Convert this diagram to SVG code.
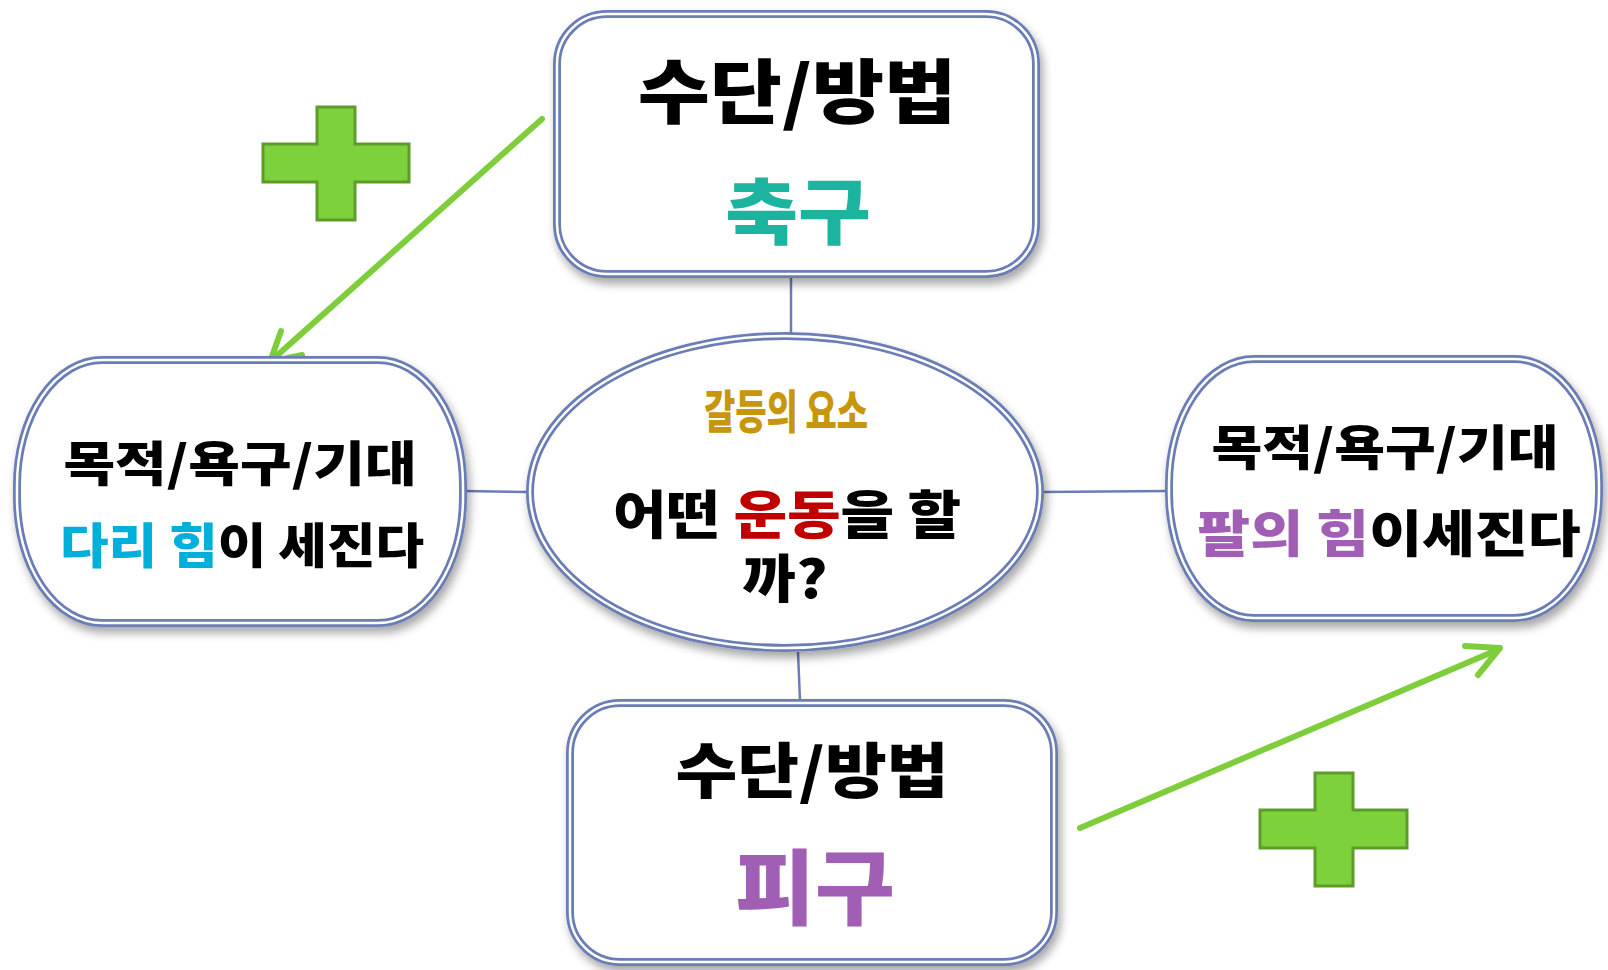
<svg xmlns="http://www.w3.org/2000/svg" width="1608" height="970" viewBox="0 0 1608 970">
<style>
.b{fill:#fff;stroke:#6B7DB5;stroke-width:8}
.w{fill:none;stroke:#fff;stroke-width:2.5}
.t{font-family:"Noto Sans CJK KR","Noto Sans",sans-serif;font-weight:900;text-anchor:middle;fill:#000}
.c{stroke:#6B7DB5;stroke-width:2.5;fill:none}
.g{stroke:#7DCE3A;stroke-width:6;fill:none;stroke-linecap:round;stroke-linejoin:round}
.p{fill:#7DD13A;stroke:#5E9B2A;stroke-width:3}
</style>
<defs>
<filter id="sh" x="-10%" y="-10%" width="125%" height="130%">
<feDropShadow dx="3" dy="6" stdDeviation="5" flood-color="#000" flood-opacity="0.35"/>
</filter>
</defs>
<g id="connectors">
<line class="c" x1="791" y1="277" x2="791" y2="334"/>
<line class="c" x1="798" y1="652" x2="800" y2="701"/>
<line class="c" x1="463" y1="491" x2="530" y2="492"/>
<line class="c" x1="1040" y1="492" x2="1170" y2="491"/>
<path class="g" d="M542 119 L272 360"/>
<path class="g" d="M281 331 L270 362 L302 355"/>
<path class="g" d="M1080 828 L1497 650"/>
<path class="g" d="M1465 646 L1500 648 L1478 675"/>
</g>
<g id="plus1"><path class="p" d="M317 107 H355 V144 H409 V182 H355 V220 H317 V182 H263 V144 H317 Z"/></g>
<g id="plus2"><path class="p" d="M1315 773 H1353 V810 H1407 V848 H1353 V886 H1315 V848 H1260 V810 H1315 Z"/></g>
<g id="top">
<rect class="b" x="557" y="14" width="479" height="260" rx="50" filter="url(#sh)"/>
<rect class="w" x="557" y="14" width="479" height="260" rx="50"/>
<text class="t" transform="translate(797,118) scale(1.12,1)" font-size="70">수단/방법</text>
<text class="t" transform="translate(798,238) scale(1.1,1)" font-size="72" style="fill:#1BB49F">축구</text>
</g>
<g id="left">
<rect class="b" x="17" y="360" width="446" height="263" rx="85" ry="125" filter="url(#sh)"/>
<rect class="w" x="17" y="360" width="446" height="263" rx="85" ry="125"/>
<text class="t" transform="translate(240,481) scale(1.17,1)" font-size="48">목적/욕구/기대</text>
<text class="t" transform="translate(242,563) scale(1.1,1)" font-size="48"><tspan style="fill:#00B0DA">다리 힘</tspan>이 세진다</text>
</g>
<g id="center">
<ellipse class="b" cx="785" cy="492" rx="255" ry="156" filter="url(#sh)"/>
<ellipse class="w" cx="785" cy="492" rx="255" ry="156"/>
<text class="t" transform="translate(786,428) scale(1,1.35)" font-size="34" style="fill:#C8960C">갈등의 요소</text>
<text class="t" transform="scale(1.12,1)" font-size="52"><tspan x="702.7" y="534">어떤 <tspan style="fill:#C00000">운동</tspan>을 할</tspan><tspan x="700.9" y="598">까?</tspan></text>
</g>
<g id="right">
<rect class="b" x="1169" y="359" width="430" height="259" rx="85" ry="125" filter="url(#sh)"/>
<rect class="w" x="1169" y="359" width="430" height="259" rx="85" ry="125"/>
<text class="t" transform="translate(1385,465) scale(1.15,1)" font-size="48">목적/욕구/기대</text>
<text class="t" transform="translate(1389,552) scale(1.15,1)" font-size="50"><tspan style="fill:#A05EB5">팔의 힘</tspan>이세진다</text>
</g>
<g id="bottom">
<rect class="b" x="570" y="703" width="484" height="259" rx="50" filter="url(#sh)"/>
<rect class="w" x="570" y="703" width="484" height="259" rx="50"/>
<text class="t" transform="translate(812,793) scale(1.12,1)" font-size="60">수단/방법</text>
<text class="t" transform="translate(815,918) scale(1.06,1)" font-size="82" style="fill:#A05EB5">피구</text>
</g>
</svg>
